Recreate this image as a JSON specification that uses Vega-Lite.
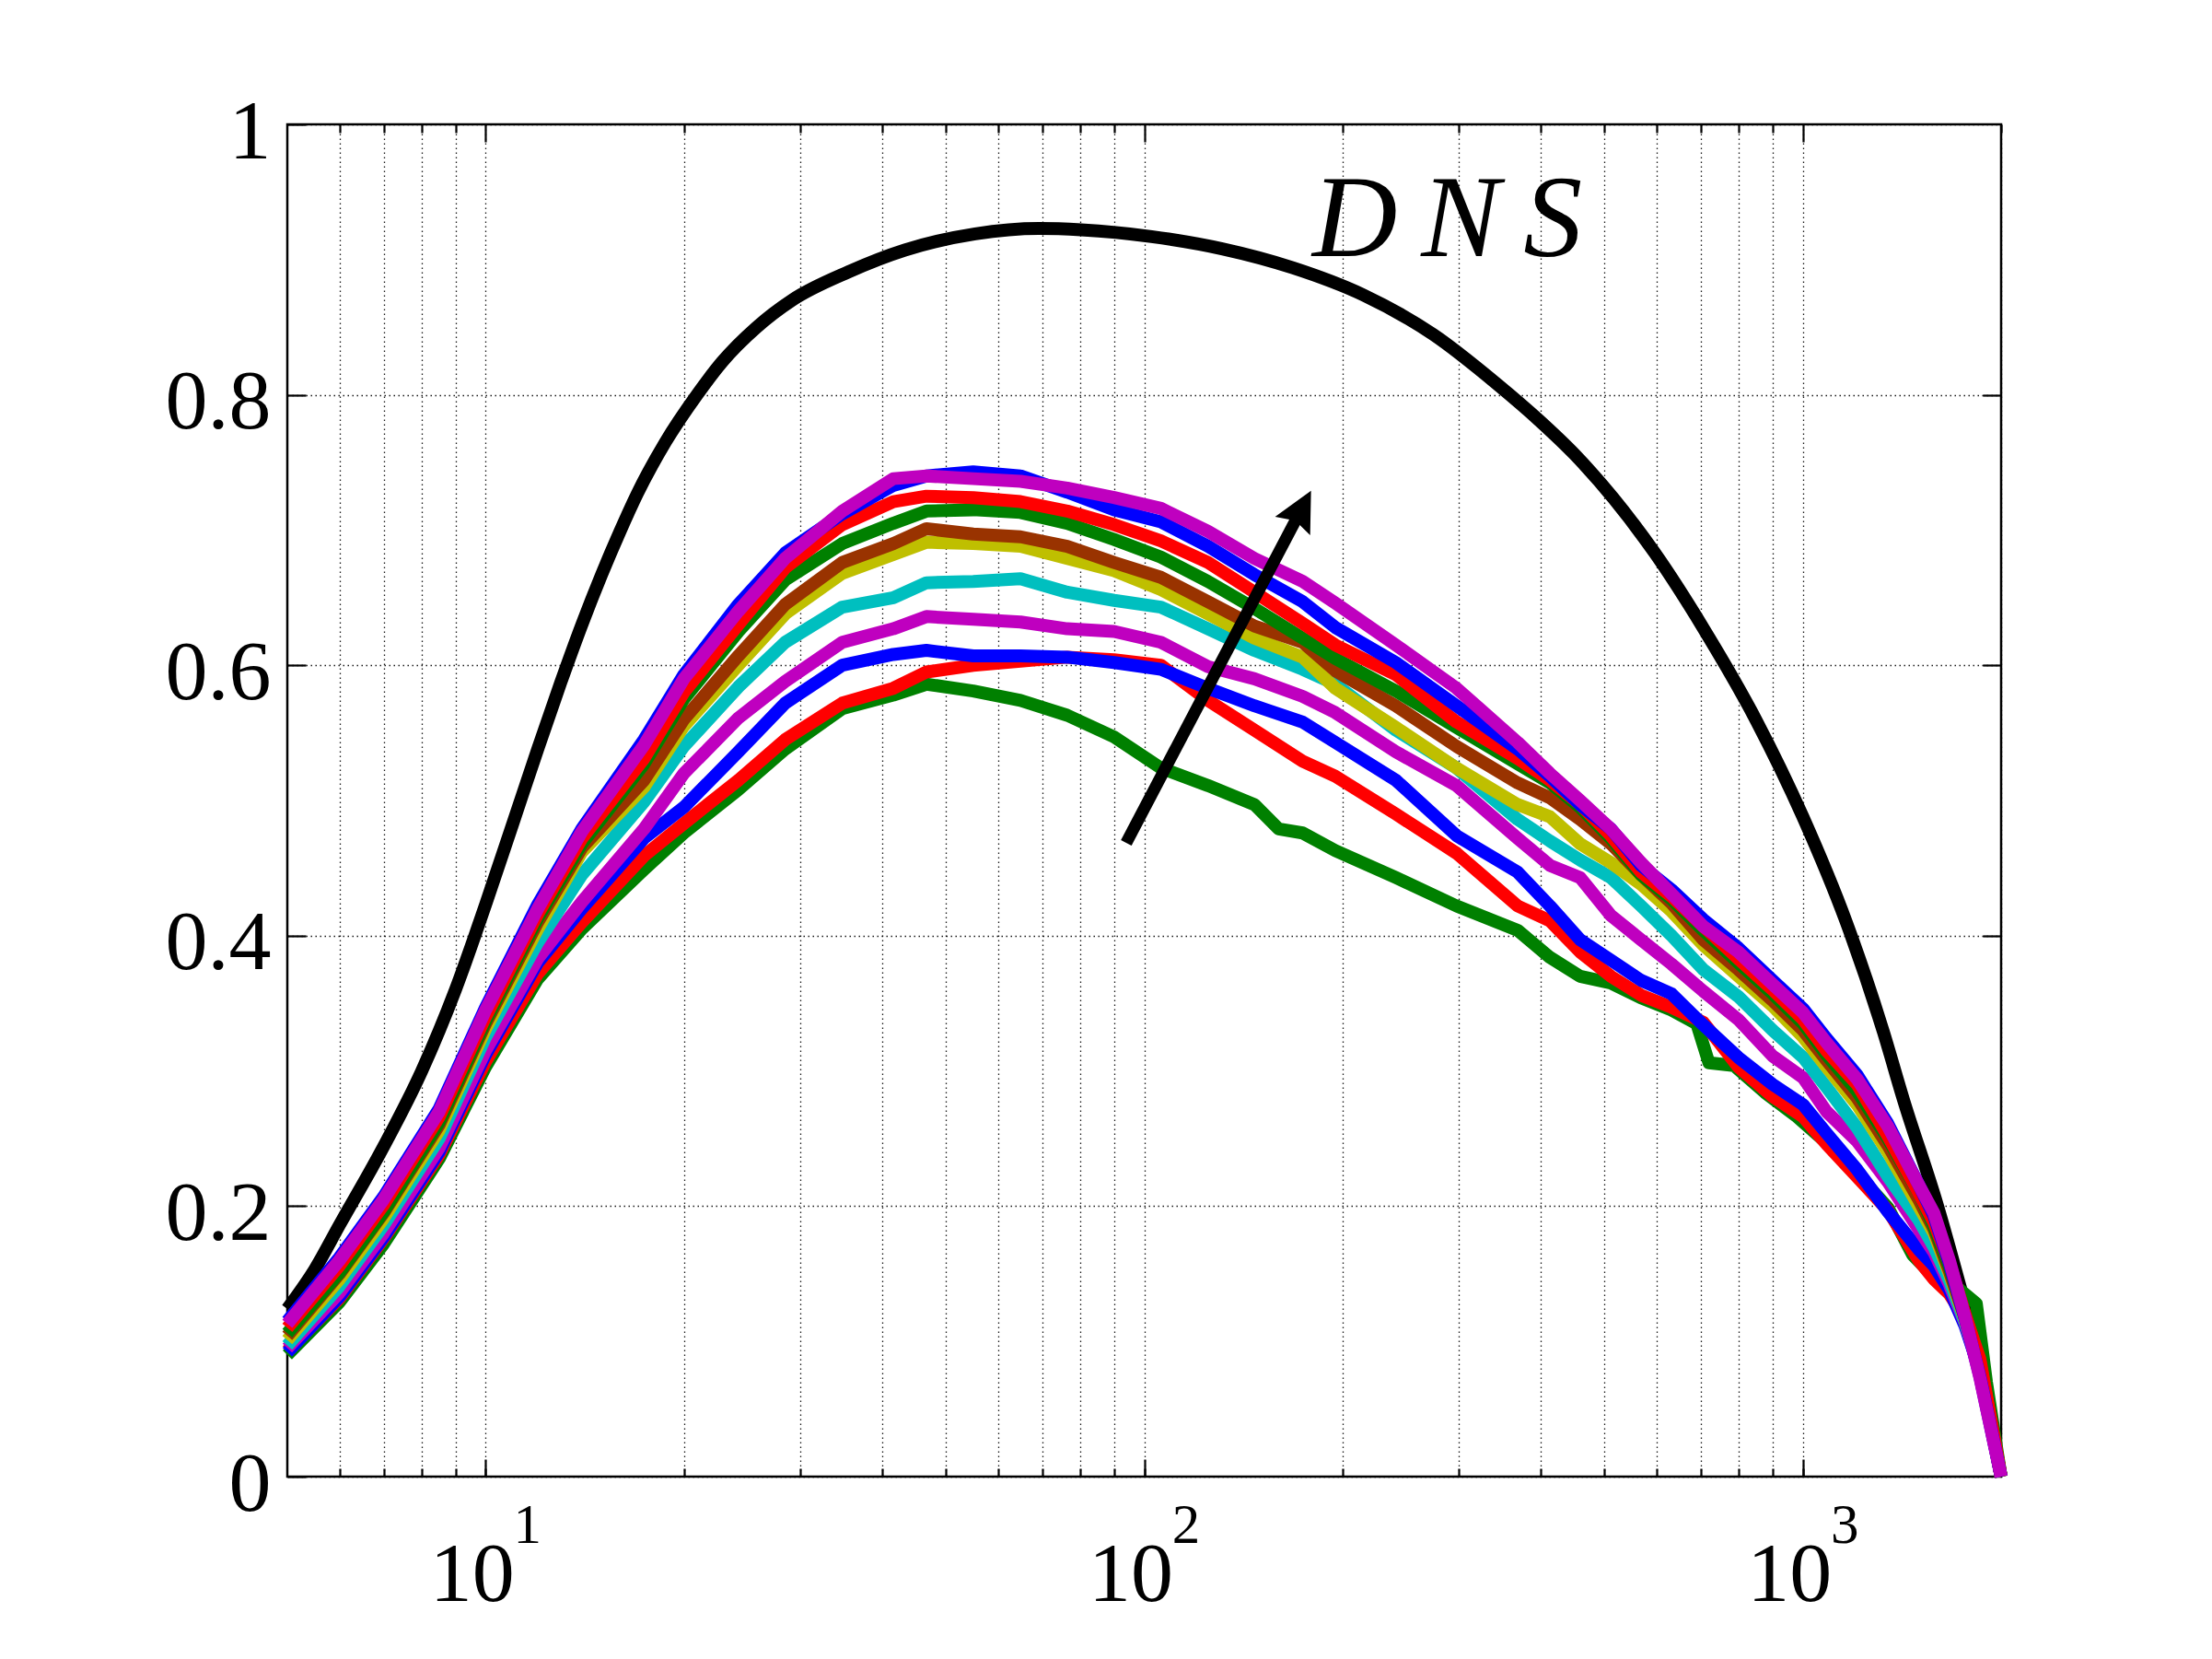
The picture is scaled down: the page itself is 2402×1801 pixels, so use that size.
{
  "$schema": "https://vega.github.io/schema/vega-lite/v6.json",
  "width": 1861,
  "height": 1468,
  "autosize": {"type": "none"},
  "padding": {"left": 312, "top": 135, "right": 229, "bottom": 198},
  "background": "white",
  "config": {
    "view": {"stroke": "black", "strokeWidth": 2.5},
    "axis": {
      "title": null, "domain": false, "grid": false, "labels": false, "ticks": true,
      "tickColor": "black", "tickWidth": 2.2, "labelColor": "black", "labelFont": "Liberation Serif",
      "labelOverlap": false, "labelFlush": false, "labelBound": false,
      "gridColor": "black", "gridDash": [1.5, 3.5], "gridWidth": 1.3, "gridOpacity": 0.9
    }
  },
  "datasets": {
    "black": [
      {"x":5,"y":0.124},{"x":5.5,"y":0.153},{"x":6,"y":0.186},{"x":7,"y":0.244},{"x":8,"y":0.300},{"x":9,"y":0.360},
      {"x":10,"y":0.423},{"x":11,"y":0.483},{"x":12,"y":0.538},{"x":13,"y":0.587},{"x":14,"y":0.630},{"x":15,"y":0.667},
      {"x":16,"y":0.699},{"x":17,"y":0.727},{"x":18.75,"y":0.765},{"x":20.94,"y":0.800},{"x":22.83,"y":0.824},{"x":25.8,"y":0.850},
      {"x":29.2,"y":0.870},{"x":35.6,"y":0.891},{"x":43.3,"y":0.907},{"x":55.4,"y":0.919},{"x":69.2,"y":0.923},
      {"x":80.2,"y":0.922},{"x":102.6,"y":0.917},{"x":131.3,"y":0.908},{"x":168,"y":0.894},{"x":214.8,"y":0.874},
      {"x":274.9,"y":0.8445},{"x":343.2,"y":0.808},{"x":397.9,"y":0.781},{"x":450.1,"y":0.756},{"x":596,"y":0.683},
      {"x":707,"y":0.627},{"x":850,"y":0.559},{"x":1000,"y":0.488},{"x":1164,"y":0.41},{"x":1325,"y":0.329},
      {"x":1421,"y":0.279},{"x":1602,"y":0.2},{"x":1732,"y":0.141},{"x":1779,"y":0.12},{"x":2000,"y":0}
    ],
    "curves": [
      {"s":"c01","x":5,"y":0.090},{"s":"c01","x":6,"y":0.129},{"s":"c01","x":7,"y":0.172},{"s":"c01","x":8.5,"y":0.235},{"s":"c01","x":10,"y":0.303},
      {"s":"c01","x":12,"y":0.368},{"s":"c01","x":14,"y":0.405},{"s":"c01","x":17.4,"y":0.449},{"s":"c01","x":20,"y":0.476},{"s":"c01","x":24.2,"y":0.508},
      {"s":"c01","x":28.5,"y":0.538},{"s":"c01","x":34.8,"y":0.568},{"s":"c01","x":41.6,"y":0.578},{"s":"c01","x":46.7,"y":0.586},{"s":"c01","x":55,"y":0.581},
      {"s":"c01","x":64.9,"y":0.574},{"s":"c01","x":76.4,"y":0.563},{"s":"c01","x":90,"y":0.547},{"s":"c01","x":106,"y":0.524},{"s":"c01","x":125,"y":0.511},
      {"s":"c01","x":147,"y":0.497},{"s":"c01","x":160,"y":0.479},{"s":"c01","x":174,"y":0.476},{"s":"c01","x":195,"y":0.463},{"s":"c01","x":241,"y":0.443},
      {"s":"c01","x":298,"y":0.422},{"s":"c01","x":369,"y":0.404},{"s":"c01","x":413,"y":0.384},{"s":"c01","x":459,"y":0.370},{"s":"c01","x":511,"y":0.365},
      {"s":"c01","x":568,"y":0.354},{"s":"c01","x":632,"y":0.345},{"s":"c01","x":690,"y":0.335},{"s":"c01","x":720,"y":0.306},{"s":"c01","x":786,"y":0.304},
      {"s":"c01","x":876,"y":0.284},{"s":"c01","x":975,"y":0.267},{"s":"c01","x":1086,"y":0.247},{"s":"c01","x":1209,"y":0.224},{"s":"c01","x":1346,"y":0.199},
      {"s":"c01","x":1468,"y":0.164},{"s":"c01","x":1581,"y":0.148},{"s":"c01","x":1703,"y":0.141},{"s":"c01","x":1834,"y":0.128},{"s":"c01","x":1900,"y":0.07},{"s":"c01","x":2000,"y":0},

      {"s":"c02","x":5,"y":0.093},{"s":"c02","x":6,"y":0.132},{"s":"c02","x":7,"y":0.176},{"s":"c02","x":8.5,"y":0.238},{"s":"c02","x":10,"y":0.307},
      {"s":"c02","x":12,"y":0.372},{"s":"c02","x":14,"y":0.410},{"s":"c02","x":17.4,"y":0.459},{"s":"c02","x":20,"y":0.483},{"s":"c02","x":24.2,"y":0.515},
      {"s":"c02","x":28.5,"y":0.545},{"s":"c02","x":34.8,"y":0.572},{"s":"c02","x":41.6,"y":0.583},{"s":"c02","x":46.7,"y":0.595},{"s":"c02","x":55,"y":0.600},
      {"s":"c02","x":64.9,"y":0.603},{"s":"c02","x":76.4,"y":0.606},{"s":"c02","x":90,"y":0.604},{"s":"c02","x":106,"y":0.600},{"s":"c02","x":125,"y":0.574},
      {"s":"c02","x":147,"y":0.552},{"s":"c02","x":174,"y":0.529},{"s":"c02","x":195,"y":0.518},{"s":"c02","x":241,"y":0.490},{"s":"c02","x":298,"y":0.461},
      {"s":"c02","x":369,"y":0.422},{"s":"c02","x":413,"y":0.411},{"s":"c02","x":459,"y":0.388},{"s":"c02","x":511,"y":0.370},{"s":"c02","x":568,"y":0.356},
      {"s":"c02","x":632,"y":0.347},{"s":"c02","x":706,"y":0.336},{"s":"c02","x":798,"y":0.303},{"s":"c02","x":900,"y":0.281},{"s":"c02","x":1001,"y":0.266},
      {"s":"c02","x":1086,"y":0.246},{"s":"c02","x":1209,"y":0.2215},{"s":"c02","x":1346,"y":0.197},{"s":"c02","x":1499,"y":0.160},{"s":"c02","x":1581,"y":0.146},
      {"s":"c02","x":1669,"y":0.135},{"s":"c02","x":1779,"y":0.114},{"s":"c02","x":1857,"y":0.087},{"s":"c02","x":2000,"y":0},

      {"s":"c03","x":5,"y":0.092},{"s":"c03","x":6,"y":0.133},{"s":"c03","x":7,"y":0.177},{"s":"c03","x":8.5,"y":0.240},{"s":"c03","x":10,"y":0.312},
      {"s":"c03","x":12,"y":0.380},{"s":"c03","x":14,"y":0.420},{"s":"c03","x":17.4,"y":0.472},{"s":"c03","x":20,"y":0.495},{"s":"c03","x":24.2,"y":0.536},
      {"s":"c03","x":28.5,"y":0.572},{"s":"c03","x":34.8,"y":0.600},{"s":"c03","x":41.6,"y":0.608},{"s":"c03","x":46.7,"y":0.611},{"s":"c03","x":55,"y":0.607},
      {"s":"c03","x":64.9,"y":0.607},{"s":"c03","x":76.4,"y":0.606},{"s":"c03","x":90,"y":0.602},{"s":"c03","x":106,"y":0.597},{"s":"c03","x":125,"y":0.583},
      {"s":"c03","x":147,"y":0.570},{"s":"c03","x":174,"y":0.558},{"s":"c03","x":195,"y":0.543},{"s":"c03","x":241,"y":0.515},{"s":"c03","x":298,"y":0.474},
      {"s":"c03","x":369,"y":0.447},{"s":"c03","x":413,"y":0.422},{"s":"c03","x":459,"y":0.397},{"s":"c03","x":511,"y":0.382},{"s":"c03","x":568,"y":0.367},
      {"s":"c03","x":632,"y":0.357},{"s":"c03","x":706,"y":0.334},{"s":"c03","x":798,"y":0.310},{"s":"c03","x":900,"y":0.290},{"s":"c03","x":1001,"y":0.275},
      {"s":"c03","x":1086,"y":0.254},{"s":"c03","x":1209,"y":0.227},{"s":"c03","x":1346,"y":0.196},{"s":"c03","x":1499,"y":0.168},{"s":"c03","x":1581,"y":0.156},
      {"s":"c03","x":1669,"y":0.138},{"s":"c03","x":1761,"y":0.112},{"s":"c03","x":1857,"y":0.078},{"s":"c03","x":2000,"y":0},

      {"s":"c04","x":5,"y":0.095},{"s":"c04","x":6,"y":0.136},{"s":"c04","x":7,"y":0.180},{"s":"c04","x":8.5,"y":0.243},{"s":"c04","x":10,"y":0.315},
      {"s":"c04","x":12,"y":0.383},{"s":"c04","x":14,"y":0.425},{"s":"c04","x":17.4,"y":0.479},{"s":"c04","x":20,"y":0.520},{"s":"c04","x":24.2,"y":0.561},
      {"s":"c04","x":28.5,"y":0.588},{"s":"c04","x":34.8,"y":0.617},{"s":"c04","x":41.6,"y":0.627},{"s":"c04","x":46.7,"y":0.636},{"s":"c04","x":55,"y":0.634},
      {"s":"c04","x":64.9,"y":0.632},{"s":"c04","x":76.4,"y":0.627},{"s":"c04","x":90,"y":0.625},{"s":"c04","x":106,"y":0.617},{"s":"c04","x":125,"y":0.599},
      {"s":"c04","x":147,"y":0.590},{"s":"c04","x":174,"y":0.577},{"s":"c04","x":195,"y":0.565},{"s":"c04","x":241,"y":0.536},{"s":"c04","x":298,"y":0.511},
      {"s":"c04","x":369,"y":0.472},{"s":"c04","x":413,"y":0.452},{"s":"c04","x":459,"y":0.443},{"s":"c04","x":511,"y":0.415},{"s":"c04","x":568,"y":0.397},
      {"s":"c04","x":632,"y":0.379},{"s":"c04","x":706,"y":0.359},{"s":"c04","x":798,"y":0.338},{"s":"c04","x":900,"y":0.311},{"s":"c04","x":1001,"y":0.295},
      {"s":"c04","x":1086,"y":0.270},{"s":"c04","x":1209,"y":0.248},{"s":"c04","x":1346,"y":0.218},{"s":"c04","x":1499,"y":0.183},{"s":"c04","x":1581,"y":0.166},
      {"s":"c04","x":1669,"y":0.142},{"s":"c04","x":1761,"y":0.114},{"s":"c04","x":1857,"y":0.078},{"s":"c04","x":2000,"y":0},

      {"s":"c05","x":5,"y":0.097},{"s":"c05","x":6,"y":0.141},{"s":"c05","x":7,"y":0.186},{"s":"c05","x":8.5,"y":0.250},{"s":"c05","x":10,"y":0.325},
      {"s":"c05","x":12,"y":0.395},{"s":"c05","x":14,"y":0.445},{"s":"c05","x":17.4,"y":0.499},{"s":"c05","x":20,"y":0.540},{"s":"c05","x":24.2,"y":0.584},
      {"s":"c05","x":28.5,"y":0.617},{"s":"c05","x":34.8,"y":0.643},{"s":"c05","x":41.6,"y":0.650},{"s":"c05","x":46.7,"y":0.661},{"s":"c05","x":55,"y":0.662},
      {"s":"c05","x":64.9,"y":0.664},{"s":"c05","x":76.4,"y":0.654},{"s":"c05","x":90,"y":0.648},{"s":"c05","x":106,"y":0.643},{"s":"c05","x":125,"y":0.627},
      {"s":"c05","x":147,"y":0.611},{"s":"c05","x":174,"y":0.597},{"s":"c05","x":195,"y":0.586},{"s":"c05","x":241,"y":0.552},{"s":"c05","x":298,"y":0.524},
      {"s":"c05","x":369,"y":0.486},{"s":"c05","x":413,"y":0.470},{"s":"c05","x":459,"y":0.456},{"s":"c05","x":511,"y":0.443},{"s":"c05","x":568,"y":0.422},
      {"s":"c05","x":632,"y":0.400},{"s":"c05","x":706,"y":0.375},{"s":"c05","x":798,"y":0.355},{"s":"c05","x":900,"y":0.330},{"s":"c05","x":1001,"y":0.310},
      {"s":"c05","x":1086,"y":0.288},{"s":"c05","x":1209,"y":0.258},{"s":"c05","x":1346,"y":0.222},{"s":"c05","x":1499,"y":0.190},{"s":"c05","x":1581,"y":0.170},
      {"s":"c05","x":1669,"y":0.145},{"s":"c05","x":1761,"y":0.115},{"s":"c05","x":1857,"y":0.078},{"s":"c05","x":2000,"y":0},

      {"s":"c06","x":5,"y":0.101},{"s":"c06","x":6,"y":0.146},{"s":"c06","x":7,"y":0.191},{"s":"c06","x":8.5,"y":0.256},{"s":"c06","x":10,"y":0.331},
      {"s":"c06","x":12,"y":0.405},{"s":"c06","x":14,"y":0.462},{"s":"c06","x":17.4,"y":0.510},{"s":"c06","x":20,"y":0.555},{"s":"c06","x":24.2,"y":0.600},
      {"s":"c06","x":28.5,"y":0.638},{"s":"c06","x":34.8,"y":0.668},{"s":"c06","x":41.6,"y":0.682},{"s":"c06","x":46.7,"y":0.691},{"s":"c06","x":55,"y":0.690},
      {"s":"c06","x":64.9,"y":0.688},{"s":"c06","x":76.4,"y":0.679},{"s":"c06","x":90,"y":0.670},{"s":"c06","x":106,"y":0.656},{"s":"c06","x":125,"y":0.638},
      {"s":"c06","x":147,"y":0.620},{"s":"c06","x":174,"y":0.606},{"s":"c06","x":195,"y":0.583},{"s":"c06","x":241,"y":0.554},{"s":"c06","x":298,"y":0.524},
      {"s":"c06","x":369,"y":0.497},{"s":"c06","x":413,"y":0.488},{"s":"c06","x":459,"y":0.468},{"s":"c06","x":511,"y":0.454},{"s":"c06","x":568,"y":0.438},
      {"s":"c06","x":632,"y":0.418},{"s":"c06","x":706,"y":0.393},{"s":"c06","x":798,"y":0.370},{"s":"c06","x":900,"y":0.348},{"s":"c06","x":1001,"y":0.325},
      {"s":"c06","x":1086,"y":0.303},{"s":"c06","x":1209,"y":0.275},{"s":"c06","x":1346,"y":0.240},{"s":"c06","x":1499,"y":0.200},{"s":"c06","x":1581,"y":0.180},
      {"s":"c06","x":1669,"y":0.150},{"s":"c06","x":1761,"y":0.117},{"s":"c06","x":1857,"y":0.078},{"s":"c06","x":2000,"y":0},

      {"s":"c07","x":5,"y":0.104},{"s":"c07","x":6,"y":0.150},{"s":"c07","x":7,"y":0.195},{"s":"c07","x":8.5,"y":0.260},{"s":"c07","x":10,"y":0.335},
      {"s":"c07","x":12,"y":0.410},{"s":"c07","x":14,"y":0.465},{"s":"c07","x":17.4,"y":0.515},{"s":"c07","x":20,"y":0.560},{"s":"c07","x":24.2,"y":0.607},
      {"s":"c07","x":28.5,"y":0.645},{"s":"c07","x":34.8,"y":0.676},{"s":"c07","x":41.6,"y":0.690},{"s":"c07","x":46.7,"y":0.701},{"s":"c07","x":55,"y":0.697},
      {"s":"c07","x":64.9,"y":0.695},{"s":"c07","x":76.4,"y":0.688},{"s":"c07","x":90,"y":0.676},{"s":"c07","x":106,"y":0.665},{"s":"c07","x":125,"y":0.647},
      {"s":"c07","x":147,"y":0.629},{"s":"c07","x":174,"y":0.617},{"s":"c07","x":195,"y":0.596},{"s":"c07","x":241,"y":0.570},{"s":"c07","x":298,"y":0.540},
      {"s":"c07","x":369,"y":0.513},{"s":"c07","x":413,"y":0.502},{"s":"c07","x":459,"y":0.486},{"s":"c07","x":511,"y":0.468},{"s":"c07","x":568,"y":0.445},
      {"s":"c07","x":632,"y":0.424},{"s":"c07","x":706,"y":0.397},{"s":"c07","x":798,"y":0.375},{"s":"c07","x":900,"y":0.352},{"s":"c07","x":1001,"y":0.330},
      {"s":"c07","x":1086,"y":0.308},{"s":"c07","x":1209,"y":0.280},{"s":"c07","x":1346,"y":0.245},{"s":"c07","x":1499,"y":0.205},{"s":"c07","x":1581,"y":0.183},
      {"s":"c07","x":1669,"y":0.152},{"s":"c07","x":1761,"y":0.118},{"s":"c07","x":1857,"y":0.078},{"s":"c07","x":2000,"y":0},

      {"s":"c08","x":5,"y":0.106},{"s":"c08","x":6,"y":0.151},{"s":"c08","x":7,"y":0.196},{"s":"c08","x":8.5,"y":0.262},{"s":"c08","x":10,"y":0.337},
      {"s":"c08","x":12,"y":0.413},{"s":"c08","x":14,"y":0.468},{"s":"c08","x":17.4,"y":0.527},{"s":"c08","x":20,"y":0.575},{"s":"c08","x":24.2,"y":0.625},
      {"s":"c08","x":28.5,"y":0.663},{"s":"c08","x":34.8,"y":0.690},{"s":"c08","x":41.6,"y":0.705},{"s":"c08","x":46.7,"y":0.714},{"s":"c08","x":55,"y":0.715},
      {"s":"c08","x":64.9,"y":0.713},{"s":"c08","x":76.4,"y":0.705},{"s":"c08","x":90,"y":0.693},{"s":"c08","x":106,"y":0.680},{"s":"c08","x":125,"y":0.662},
      {"s":"c08","x":147,"y":0.642},{"s":"c08","x":174,"y":0.620},{"s":"c08","x":195,"y":0.605},{"s":"c08","x":241,"y":0.581},{"s":"c08","x":298,"y":0.554},
      {"s":"c08","x":369,"y":0.527},{"s":"c08","x":413,"y":0.513},{"s":"c08","x":459,"y":0.495},{"s":"c08","x":511,"y":0.472},{"s":"c08","x":568,"y":0.445},
      {"s":"c08","x":632,"y":0.427},{"s":"c08","x":706,"y":0.404},{"s":"c08","x":798,"y":0.380},{"s":"c08","x":900,"y":0.357},{"s":"c08","x":1001,"y":0.335},
      {"s":"c08","x":1086,"y":0.312},{"s":"c08","x":1209,"y":0.285},{"s":"c08","x":1346,"y":0.250},{"s":"c08","x":1499,"y":0.210},{"s":"c08","x":1581,"y":0.185},
      {"s":"c08","x":1669,"y":0.155},{"s":"c08","x":1761,"y":0.120},{"s":"c08","x":1857,"y":0.080},{"s":"c08","x":2000,"y":0},

      {"s":"c09","x":5,"y":0.110},{"s":"c09","x":6,"y":0.156},{"s":"c09","x":7,"y":0.201},{"s":"c09","x":8.5,"y":0.266},{"s":"c09","x":10,"y":0.340},
      {"s":"c09","x":12,"y":0.416},{"s":"c09","x":14,"y":0.472},{"s":"c09","x":17.4,"y":0.531},{"s":"c09","x":20,"y":0.580},{"s":"c09","x":24.2,"y":0.630},
      {"s":"c09","x":28.5,"y":0.672},{"s":"c09","x":34.8,"y":0.704},{"s":"c09","x":41.6,"y":0.721},{"s":"c09","x":46.7,"y":0.725},{"s":"c09","x":55,"y":0.724},
      {"s":"c09","x":64.9,"y":0.721},{"s":"c09","x":76.4,"y":0.714},{"s":"c09","x":90,"y":0.704},{"s":"c09","x":106,"y":0.692},{"s":"c09","x":125,"y":0.676},
      {"s":"c09","x":147,"y":0.654},{"s":"c09","x":174,"y":0.631},{"s":"c09","x":195,"y":0.615},{"s":"c09","x":241,"y":0.593},{"s":"c09","x":298,"y":0.558},
      {"s":"c09","x":369,"y":0.531},{"s":"c09","x":413,"y":0.515},{"s":"c09","x":459,"y":0.497},{"s":"c09","x":511,"y":0.474},{"s":"c09","x":568,"y":0.447},
      {"s":"c09","x":632,"y":0.429},{"s":"c09","x":706,"y":0.407},{"s":"c09","x":798,"y":0.383},{"s":"c09","x":900,"y":0.360},{"s":"c09","x":1001,"y":0.338},
      {"s":"c09","x":1086,"y":0.315},{"s":"c09","x":1209,"y":0.290},{"s":"c09","x":1346,"y":0.252},{"s":"c09","x":1499,"y":0.210},{"s":"c09","x":1581,"y":0.188},
      {"s":"c09","x":1669,"y":0.158},{"s":"c09","x":1761,"y":0.121},{"s":"c09","x":1857,"y":0.085},{"s":"c09","x":2000,"y":0},

      {"s":"c10","x":5,"y":0.115},{"s":"c10","x":6,"y":0.162},{"s":"c10","x":7,"y":0.207},{"s":"c10","x":8.5,"y":0.272},{"s":"c10","x":10,"y":0.347},
      {"s":"c10","x":12,"y":0.423},{"s":"c10","x":14,"y":0.479},{"s":"c10","x":17.4,"y":0.545},{"s":"c10","x":20,"y":0.593},{"s":"c10","x":24.2,"y":0.645},
      {"s":"c10","x":28.5,"y":0.683},{"s":"c10","x":34.8,"y":0.712},{"s":"c10","x":41.6,"y":0.733},{"s":"c10","x":46.7,"y":0.740},{"s":"c10","x":55,"y":0.743},
      {"s":"c10","x":64.9,"y":0.740},{"s":"c10","x":76.4,"y":0.728},{"s":"c10","x":90,"y":0.715},{"s":"c10","x":106,"y":0.706},{"s":"c10","x":125,"y":0.688},
      {"s":"c10","x":147,"y":0.667},{"s":"c10","x":174,"y":0.647},{"s":"c10","x":195,"y":0.628},{"s":"c10","x":241,"y":0.602},{"s":"c10","x":298,"y":0.570},
      {"s":"c10","x":369,"y":0.538},{"s":"c10","x":413,"y":0.518},{"s":"c10","x":459,"y":0.497},{"s":"c10","x":511,"y":0.479},{"s":"c10","x":568,"y":0.452},
      {"s":"c10","x":632,"y":0.434},{"s":"c10","x":706,"y":0.412},{"s":"c10","x":798,"y":0.391},{"s":"c10","x":900,"y":0.367},{"s":"c10","x":1001,"y":0.346},
      {"s":"c10","x":1086,"y":0.324},{"s":"c10","x":1209,"y":0.297},{"s":"c10","x":1346,"y":0.261},{"s":"c10","x":1499,"y":0.216},{"s":"c10","x":1581,"y":0.193},
      {"s":"c10","x":1669,"y":0.158},{"s":"c10","x":1761,"y":0.118},{"s":"c10","x":1857,"y":0.074},{"s":"c10","x":2000,"y":0},

      {"s":"c11","x":5,"y":0.113},{"s":"c11","x":6,"y":0.160},{"s":"c11","x":7,"y":0.205},{"s":"c11","x":8.5,"y":0.270},{"s":"c11","x":10,"y":0.345},
      {"s":"c11","x":12,"y":0.420},{"s":"c11","x":14,"y":0.477},{"s":"c11","x":17.4,"y":0.541},{"s":"c11","x":20,"y":0.590},{"s":"c11","x":24.2,"y":0.640},
      {"s":"c11","x":28.5,"y":0.679},{"s":"c11","x":34.8,"y":0.714},{"s":"c11","x":41.6,"y":0.738},{"s":"c11","x":46.7,"y":0.740},{"s":"c11","x":55,"y":0.738},
      {"s":"c11","x":64.9,"y":0.736},{"s":"c11","x":76.4,"y":0.731},{"s":"c11","x":90,"y":0.724},{"s":"c11","x":106,"y":0.716},{"s":"c11","x":125,"y":0.699},
      {"s":"c11","x":147,"y":0.679},{"s":"c11","x":174,"y":0.662},{"s":"c11","x":195,"y":0.646},{"s":"c11","x":241,"y":0.615},{"s":"c11","x":298,"y":0.583},
      {"s":"c11","x":369,"y":0.543},{"s":"c11","x":413,"y":0.520},{"s":"c11","x":459,"y":0.500},{"s":"c11","x":511,"y":0.479},{"s":"c11","x":568,"y":0.454},
      {"s":"c11","x":632,"y":0.431},{"s":"c11","x":706,"y":0.407},{"s":"c11","x":798,"y":0.388},{"s":"c11","x":900,"y":0.364},{"s":"c11","x":1001,"y":0.343},
      {"s":"c11","x":1086,"y":0.321},{"s":"c11","x":1209,"y":0.294},{"s":"c11","x":1346,"y":0.259},{"s":"c11","x":1499,"y":0.216},{"s":"c11","x":1581,"y":0.195},
      {"s":"c11","x":1669,"y":0.160},{"s":"c11","x":1761,"y":0.119},{"s":"c11","x":1857,"y":0.073},{"s":"c11","x":2000,"y":0}
    ],
    "arrow": [{"x":93.9,"y":0.4687},{"x":173.5,"y":0.716}],
    "head": [{"x":173.5,"y":0.716}],
    "label": [{"x":180,"y":0.9026,"t":"D\u2009N\u2009S"}]
  },
  "resolve": {"axis": {"x": "independent", "y": "independent"}},
  "layer": [
    {
      "data": {"name": "black"},
      "mark": {"type": "line", "color": "black", "strokeWidth": 14, "strokeJoin": "round", "interpolate": "monotone"},
      "encoding": {
        "x": {"field": "x", "type": "quantitative", "scale": {"type": "log", "domain": [5, 2000], "nice": false},
              "axis": {"orient": "bottom", "values": [6,7,8,9,10,20,30,40,50,60,70,80,90,100,200,300,400,500,600,700,800,900,1000,2000], "grid": true, "tickSize": -9}},
        "y": {"field": "y", "type": "quantitative", "scale": {"domain": [0, 1], "nice": false, "zero": false},
              "axis": {"orient": "left", "values": [0,0.2,0.4,0.6,0.8,1], "grid": true, "tickSize": -20, "labels": true, "format": ".1~f",
                       "labelFontSize": 92, "labelPadding": 38, "labelOffset": 8, "labelBaseline": "middle"}}
      }
    },
    {
      "data": {"name": "curves"},
      "mark": {"type": "line", "strokeWidth": 14, "strokeJoin": "round"},
      "encoding": {
        "x": {"field": "x", "type": "quantitative", "scale": {"type": "log", "domain": [5, 2000], "nice": false},
              "axis": {"orient": "bottom", "values": [10,100,1000], "tickSize": -19, "labels": true, "labelExpr": "'10'",
                       "labelFontSize": 92, "labelBaseline": "alphabetic", "labelPadding": 153, "labelOffset": -15}},
        "y": {"field": "y", "type": "quantitative", "scale": {"domain": [0, 1], "nice": false, "zero": false},
              "axis": {"orient": "right", "values": [0.2,0.4,0.6,0.8], "tickSize": -20}},
        "color": {"field": "s", "type": "nominal", "legend": null,
                  "scale": {"domain": ["c01","c02","c03","c04","c05","c06","c07","c08","c09","c10","c11"],
                            "range": ["#008000","#ff0000","#0000ff","#bf00bf","#00bfbf","#bfbf00","#993300","#008000","#ff0000","#0000ff","#bf00bf"]}}
      }
    },
    {
      "data": {"name": "arrow"},
      "mark": {"type": "line", "color": "black", "strokeWidth": 13},
      "encoding": {
        "x": {"field": "x", "type": "quantitative", "scale": {"type": "log", "domain": [5, 2000], "nice": false},
              "axis": {"orient": "bottom", "values": [10,100,1000], "ticks": false, "tickSize": 0, "labels": true,
                       "labelExpr": "datum.value == 10 ? '1' : datum.value == 100 ? '2' : '3'",
                       "labelFontSize": 61, "labelBaseline": "alphabetic", "labelPadding": 71, "labelOffset": 45}},
        "y": {"field": "y", "type": "quantitative", "scale": {"domain": [0, 1], "nice": false, "zero": false}, "axis": null}
      }
    },
    {
      "data": {"name": "head"},
      "mark": {"type": "point", "shape": "M0,-1L1,1L0,0.7L-1,1Z", "filled": true, "color": "black", "opacity": 1, "size": 1850, "angle": 27.7, "strokeWidth": 0},
      "encoding": {
        "x": {"field": "x", "type": "quantitative", "scale": {"type": "log", "domain": [5, 2000], "nice": false},
              "axis": {"orient": "top", "values": [6,7,8,9,20,30,40,50,60,70,80,90,200,300,400,500,600,700,800,900,2000], "tickSize": -9}},
        "y": {"field": "y", "type": "quantitative", "scale": {"domain": [0, 1], "nice": false, "zero": false}, "axis": null}
      }
    },
    {
      "data": {"name": "label"},
      "mark": {"type": "text", "font": "Liberation Serif", "fontStyle": "italic", "fontSize": 128, "align": "left", "baseline": "alphabetic", "color": "black"},
      "encoding": {
        "x": {"field": "x", "type": "quantitative", "scale": {"type": "log", "domain": [5, 2000], "nice": false},
              "axis": {"orient": "top", "values": [10,100,1000], "tickSize": -19}},
        "y": {"field": "y", "type": "quantitative", "scale": {"domain": [0, 1], "nice": false, "zero": false}, "axis": null},
        "text": {"field": "t", "type": "nominal"}
      }
    }
  ]
}
